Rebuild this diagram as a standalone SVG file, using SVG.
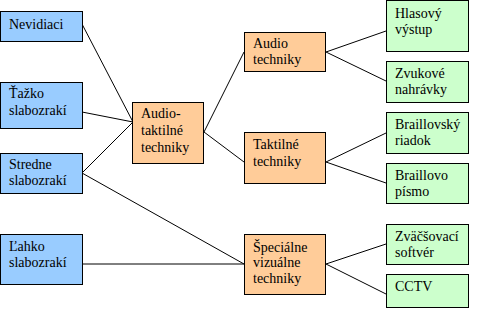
<svg xmlns="http://www.w3.org/2000/svg" width="488" height="309" viewBox="0 0 488 309">
<style>
.b{fill:#99CCFF;stroke:#000;stroke-width:1}
.o{fill:#FFCC99;stroke:#000;stroke-width:1}
.g{fill:#CCFFCC;stroke:#000;stroke-width:1}
.c line{stroke:#000;stroke-width:1}
</style>
<rect width="488" height="309" fill="#fff"/>
<g class="c" id="connectors">
<line x1="82" y1="24" x2="133" y2="122"/>
<line x1="82" y1="112" x2="133" y2="122"/>
<line x1="82" y1="173" x2="133" y2="122"/>
<line x1="82" y1="173" x2="244" y2="264"/>
<line x1="82" y1="264" x2="244" y2="264"/>
<line x1="204" y1="132" x2="244" y2="52"/>
<line x1="204" y1="132" x2="244" y2="162"/>
<line x1="326" y1="52" x2="386" y2="31"/>
<line x1="326" y1="52" x2="386" y2="81"/>
<line x1="326" y1="162" x2="386" y2="133"/>
<line x1="326" y1="162" x2="386" y2="183"/>
<line x1="326" y1="264" x2="386" y2="244"/>
<line x1="326" y1="264" x2="386" y2="294"/>
</g>
<g font-family="'Liberation Serif', 'Times New Roman', serif" font-size="14" fill="#000">
<g id="nevidiaci"><rect class="b" x="0.5" y="11.5" width="82" height="30"/><text x="9" y="29">Nevidiaci</text></g>
<g id="tazko"><rect class="b" x="0.5" y="82.5" width="82" height="46"/><text x="9" y="98">Ťažko</text><text x="9" y="115">slabozrakí</text></g>
<g id="stredne"><rect class="b" x="0.5" y="153.5" width="82" height="40"/><text x="9" y="169">Stredne</text><text x="9" y="185">slabozrakí</text></g>
<g id="lahko"><rect class="b" x="0.5" y="234.5" width="82" height="50"/><text x="9" y="251">Ľahko</text><text x="9" y="267">slabozrakí</text></g>
<g id="audiotaktilne"><rect class="o" x="132.5" y="102.5" width="71" height="61"/><text x="141" y="118">Audio-</text><text x="141" y="135">taktilné</text><text x="141" y="152">techniky</text></g>
<g id="audio"><rect class="o" x="244.5" y="32.5" width="81" height="39"/><text x="253" y="48">Audio</text><text x="253" y="64">techniky</text></g>
<g id="taktilne"><rect class="o" x="244.5" y="132.5" width="81" height="51"/><text x="253" y="149">Taktilné</text><text x="253" y="166">techniky</text></g>
<g id="specialne"><rect class="o" x="244.5" y="234.5" width="81" height="60"/><text x="253" y="252">Špeciálne</text><text x="253" y="267">vizuálne</text><text x="253" y="283">techniky</text></g>
<g id="hlasovy"><rect class="g" x="386.5" y="0.5" width="82" height="51"/><text x="395" y="18">Hlasový</text><text x="395" y="34">výstup</text></g>
<g id="zvukove"><rect class="g" x="386.5" y="61.5" width="82" height="41"/><text x="395" y="78">Zvukové</text><text x="395" y="94">nahrávky</text></g>
<g id="braillovsky"><rect class="g" x="386.5" y="112.5" width="82" height="41"/><text x="395" y="129">Braillovský</text><text x="395" y="145">riadok</text></g>
<g id="braillovo"><rect class="g" x="386.5" y="163.5" width="82" height="40"/><text x="395" y="180">Braillovo</text><text x="395" y="196">písmo</text></g>
<g id="zvacsovaci"><rect class="g" x="386.5" y="224.5" width="82" height="40"/><text x="395" y="241">Zväčšovací</text><text x="395" y="257">softvér</text></g>
<g id="cctv"><rect class="g" x="386.5" y="274.5" width="82" height="33"/><text x="395" y="291">CCTV</text></g>
</g>
</svg>
